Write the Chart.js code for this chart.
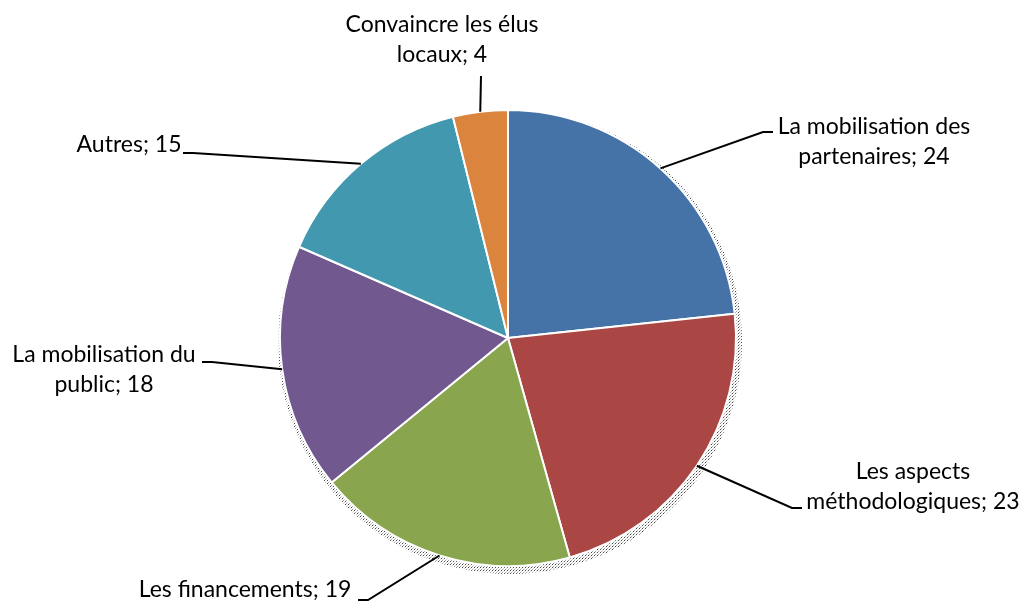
<!DOCTYPE html>
<html>
<head>
<meta charset="utf-8">
<script src="https://cdn.jsdelivr.net/npm/chart.js@4.4.0/dist/chart.umd.min.js"></script>
<style>
html,body{margin:0;padding:0;background:#fff;}
#wrap{width:1025px;height:602px;position:relative;}
</style>
</head>
<body>
<div id="wrap"><canvas id="c" width="1025" height="602"></canvas></div>
<script>
const categories = ["La mobilisation des partenaires", "Les aspects méthodologiques", "Les financements", "La mobilisation du public", "Autres", "Convaincre les élus locaux"];
const values = [24, 23, 19, 18, 15, 4];
const colors = ["#4572A7", "#AA4643", "#89A54E", "#71588F", "#4198AF", "#DB843D"];
const labelLines = [
  ["La mobilisation des", "partenaires; 24"],
  ["Les aspects", "méthodologiques; 23"],
  ["Les financements; 19"],
  ["La mobilisation du", "public; 18"],
  ["Autres; 15"],
  ["Convaincre les élus", "locaux; 4"]
];
// label layout: text center x, first line middle y, elbow point, end of horizontal tick
const labelLayout = [
  {x: 874, y: 127, elbow: [763, 132], end: [773, 132]},
  {x: 913, y: 472, elbow: [792, 508], end: [802, 508]},
  {x: 245, y: 590, elbow: [368, 600], end: [358, 600]},
  {x: 104, y: 355, elbow: [212, 362], end: [202, 362]},
  {x: 129, y: 145, elbow: [193, 153], end: [183, 153]},
  {x: 442, y: 25, elbow: null, end: [481, 76]}
];

const FONT = '23px Lato, "Open Sans", sans-serif';

function makePattern(ctx) {
  const p = document.createElement('canvas');
  p.width = 3; p.height = 3;
  const pc = p.getContext('2d');
  pc.fillStyle = 'rgba(60,60,60,0.95)';
  pc.fillRect(0, 0, 1, 1);
  pc.fillStyle = 'rgba(120,120,120,0.7)';
  pc.fillRect(1, 2, 1, 1);
  pc.fillStyle = 'rgba(170,170,170,0.5)';
  pc.fillRect(2, 1, 1, 1);
  return ctx.createPattern(p, 'repeat');
}

const shadowPlugin = {
  id: 'shadow',
  beforeDatasetsDraw(chart) {
    const arc = chart.getDatasetMeta(0).data[0];
    if (!arc) return;
    const {x, y, outerRadius} = arc.getProps(['x', 'y', 'outerRadius'], true);
    const ctx = chart.ctx;
    ctx.save();
    ctx.fillStyle = makePattern(ctx);
    ctx.beginPath();
    ctx.arc(x + 2, y + 4, outerRadius + 4, 0, Math.PI * 2);
    ctx.fill();
    ctx.restore();
  }
};

const labelPlugin = {
  id: 'outLabels',
  afterDatasetsDraw(chart) {
    const ctx = chart.ctx;
    const meta = chart.getDatasetMeta(0);
    ctx.save();
    ctx.strokeStyle = '#000';
    ctx.lineWidth = 2;
    meta.data.forEach((arc, i) => {
      const p = arc.getProps(['x', 'y', 'startAngle', 'endAngle', 'outerRadius'], true);
      const mid = (p.startAngle + p.endAngle) / 2;
      const ax = p.x + Math.cos(mid) * p.outerRadius;
      const ay = p.y + Math.sin(mid) * p.outerRadius;
      const L = labelLayout[i];
      ctx.beginPath();
      ctx.moveTo(ax, ay);
      if (L.elbow) ctx.lineTo(L.elbow[0], L.elbow[1]);
      ctx.lineTo(L.end[0], L.end[1]);
      ctx.stroke();
      ctx.fillStyle = '#000';
      ctx.font = FONT;
      ctx.textBaseline = 'middle';
      ctx.textAlign = 'center';
      labelLines[i].forEach((t, j) => {
        ctx.fillText(t, L.x, L.y + j * 30);
      });
    });
    ctx.restore();
  }
};

new Chart(document.getElementById('c'), {
  type: 'pie',
  data: {
    labels: categories,
    datasets: [{
      data: values,
      backgroundColor: colors,
      borderColor: '#fff',
      borderWidth: 2,
      radius: 228
    }]
  },
  options: {
    responsive: false,
    animation: false,
    layout: {padding: {top: 110, bottom: 36, left: 0, right: 9}},
    plugins: {legend: {display: false}, tooltip: {enabled: false}}
  },
  plugins: [shadowPlugin, labelPlugin]
});
</script>
</body>
</html>
